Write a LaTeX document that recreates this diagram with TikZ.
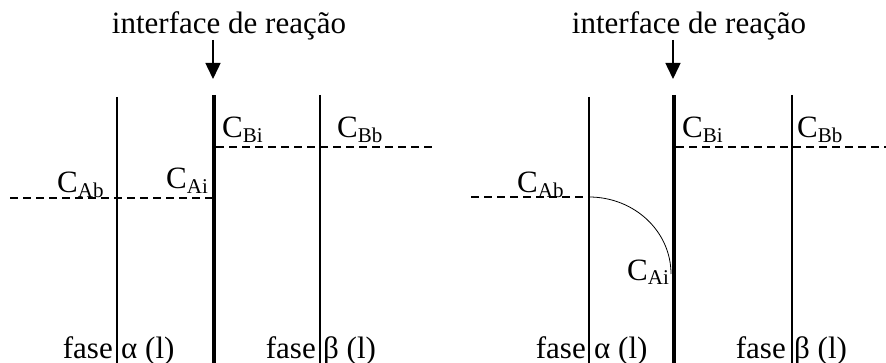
\documentclass[tikz,border=0pt]{standalone}
\usepackage{fontspec}
\setmainfont{Liberation Serif}
\usetikzlibrary{arrows.meta}
\newcommand{\Csub}[1]{C\raisebox{-0.14em}{\fontsize{21}{21}\selectfont #1}}
\begin{document}
\begin{tikzpicture}[x=1pt,y=-1pt,
  lbl/.style={font=\fontsize{31}{36}\selectfont, inner sep=0pt},
  phase/.style={line width=1.3pt},
  iface/.style={line width=4.6pt},
  level/.style={line width=1.3pt, dash pattern=on 8pt off 5pt},
  pointer/.style={line width=1.5pt, -{Triangle[width=15pt,length=16pt]}},
  profile/.style={line width=0.8pt}]
\useasboundingbox (0,0) rectangle (886,363);
\fill[white] (0,0) rectangle (886,363);

% ---------- left diagram ----------
\node[lbl, anchor=base] (tL) at (229,34) {interface de reação};
\coordinate (aLs) at (213,40);
\coordinate (aLe) at (213,79);
\draw[pointer] (aLs) -- (aLe);

\coordinate (L1t) at (117,97);  \coordinate (L1b) at (117,363);
\coordinate (LIt) at (214,95);  \coordinate (LIb) at (214,363);
\coordinate (L3t) at (320,95);  \coordinate (L3b) at (320,363);
\draw[phase] (L1t) -- (L1b);
\draw[iface] (LIt) -- (LIb);
\draw[phase] (L3t) -- (L3b);

\coordinate (LAs) at (10,198);  \coordinate (LAe) at (212,198);
\coordinate (LBs) at (216,147); \coordinate (LBe) at (432,147);
\draw[level] (LAs) -- (LAe);
\draw[level] (LBs) -- (LBe);

\node[lbl, anchor=base west] (LCAb) at (57,193) {\Csub{Ab}};
\node[lbl, anchor=base west] (LCAi) at (166,189) {\Csub{Ai}};
\node[lbl, anchor=base west] (LCBi) at (222,138) {\Csub{Bi}};
\node[lbl, anchor=base west] (LCBb) at (337,138) {\Csub{Bb}};

\node[lbl, anchor=base east] (Lfa) at (113,358) {fase};
\node[lbl, anchor=base west] (Lal) at (121,358) {α (l)};
\node[lbl, anchor=base east] (Lfb) at (316,358) {fase};
\node[lbl, anchor=base west] (Lbe) at (323,358) {β (l)};

% ---------- right diagram ----------
\node[lbl, anchor=base] (tR) at (689,34) {interface de reação};
\coordinate (aRs) at (673,40);
\coordinate (aRe) at (673,79);
\draw[pointer] (aRs) -- (aRe);

\coordinate (R1t) at (589,97);  \coordinate (R1b) at (589,363);
\coordinate (RIt) at (674,95);  \coordinate (RIb) at (674,363);
\coordinate (R3t) at (792,95);  \coordinate (R3b) at (792,363);
\draw[phase] (R1t) -- (R1b);
\draw[iface] (RIt) -- (RIb);
\draw[phase] (R3t) -- (R3b);

\coordinate (RAs) at (471,197); \coordinate (RAe) at (589,197);
\coordinate (RBs) at (676,147); \coordinate (RBe) at (886,147);
\draw[level] (RAs) -- (RAe);
\draw[level] (RBs) -- (RBe);
\coordinate (Rend) at (671,274);
\draw[profile] (RAe) .. controls (634,197) and (671,231) .. (Rend);

\node[lbl, anchor=base west] (RCAb) at (517,193) {\Csub{Ab}};
\node[lbl, anchor=base west] (RCAi) at (627,280) {\Csub{Ai}};
\node[lbl, anchor=base west] (RCBi) at (682,138) {\Csub{Bi}};
\node[lbl, anchor=base west] (RCBb) at (797,138) {\Csub{Bb}};

\node[lbl, anchor=base east] (Rfa) at (586,358) {fase};
\node[lbl, anchor=base west] (Ral) at (594,358) {α (l)};
\node[lbl, anchor=base east] (Rfb) at (786,358) {fase};
\node[lbl, anchor=base west] (Rbe) at (794,358) {β (l)};
\end{tikzpicture}
\end{document}
